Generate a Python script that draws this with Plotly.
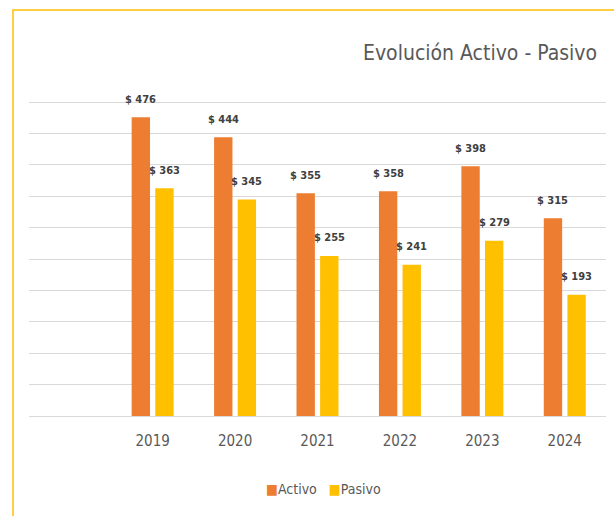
import plotly.graph_objects as go

years = ["2019", "2020", "2021", "2022", "2023", "2024"]
activo = [476, 444, 355, 358, 398, 315]
pasivo = [363, 345, 255, 241, 279, 193]
series_names = ["Activo", "Pasivo"]
title_text = "Evolución Activo - Pasivo"

ORANGE = "#ED7D31"
YELLOW = "#FFC000"
TXT = "#595959"
FONT = "DejaVu Sans Condensed, DejaVu Sans, sans-serif"

fig = go.Figure()
fig.add_trace(go.Bar(x=years, y=activo, name=series_names[0], marker_color=ORANGE,
                     marker_line_width=0, showlegend=False, hoverinfo="skip"))
fig.add_trace(go.Bar(x=years, y=pasivo, name=series_names[1], marker_color=YELLOW,
                     marker_line_width=0, showlegend=False, hoverinfo="skip"))

# data labels (x given as category index)
slot_px = 23.6
for vals, dx in ((activo, -slot_px / 2), (pasivo, slot_px / 2)):
    for i, v in enumerate(vals):
        fig.add_annotation(x=i, y=v, text=f"<b>$ {v}</b>", showarrow=False,
                           xshift=dx, yshift=18, yanchor="middle",
                           font=dict(family=FONT, size=11, color="#404040"))

# plot area in px: x 29..606, y 99..416 (value 500 sits at y=102)
L, R, T, B = 29, 606, 99, 416
W, H = 614, 516
pw, ph = R - L, B - T
fig.add_shape(type="rect", xref="paper", yref="paper",
              x0=(13 - L) / pw, x1=(640 - L) / pw,
              y0=(B - 560) / ph, y1=(B - 10) / ph,
              line=dict(color=YELLOW, width=1.5), fillcolor="rgba(0,0,0,0)", layer="below")

fig.add_annotation(xref="paper", yref="paper", x=(480 - L) / pw, y=(B - 53) / ph,
                   text=title_text, showarrow=False, xanchor="center", yanchor="middle",
                   font=dict(family=FONT, size=21, color=TXT))

# legend built as text with coloured squares
legend_text = "&nbsp;&nbsp;&nbsp;".join(
    f"<span style='color:{c}'>■</span>{n}" for c, n in zip((ORANGE, YELLOW), series_names))
fig.add_annotation(xref="paper", yref="paper", x=(323 - L) / pw, y=(B - 489) / ph,
                   text=legend_text, showarrow=False, xanchor="center", yanchor="middle",
                   font=dict(family=FONT, size=14, color=TXT))

fig.update_layout(
    width=W, height=H,
    margin=dict(l=L, r=W - R, t=T, b=H - B),
    paper_bgcolor="white", plot_bgcolor="white",
    barmode="group", bargap=0.427, bargroupgap=0.222,
    font=dict(family=FONT, color=TXT),
    showlegend=False,
    hovermode=False,
)
fig.update_xaxes(type="category", range=[-1.5, 5.5], showgrid=False, showline=False,
                 ticks="", ticklabelstandoff=14,
                 tickfont=dict(family=FONT, size=15, color=TXT))
fig.update_yaxes(range=[0, 505], dtick=50, showgrid=True, gridcolor="#D9D9D9",
                 gridwidth=1, showticklabels=False, zeroline=True,
                 zerolinecolor="#D9D9D9", zerolinewidth=1)

fig.write_html("out.html", config={"displayModeBar": False, "staticPlot": True},
               post_script="document.body.style.margin='0';")
